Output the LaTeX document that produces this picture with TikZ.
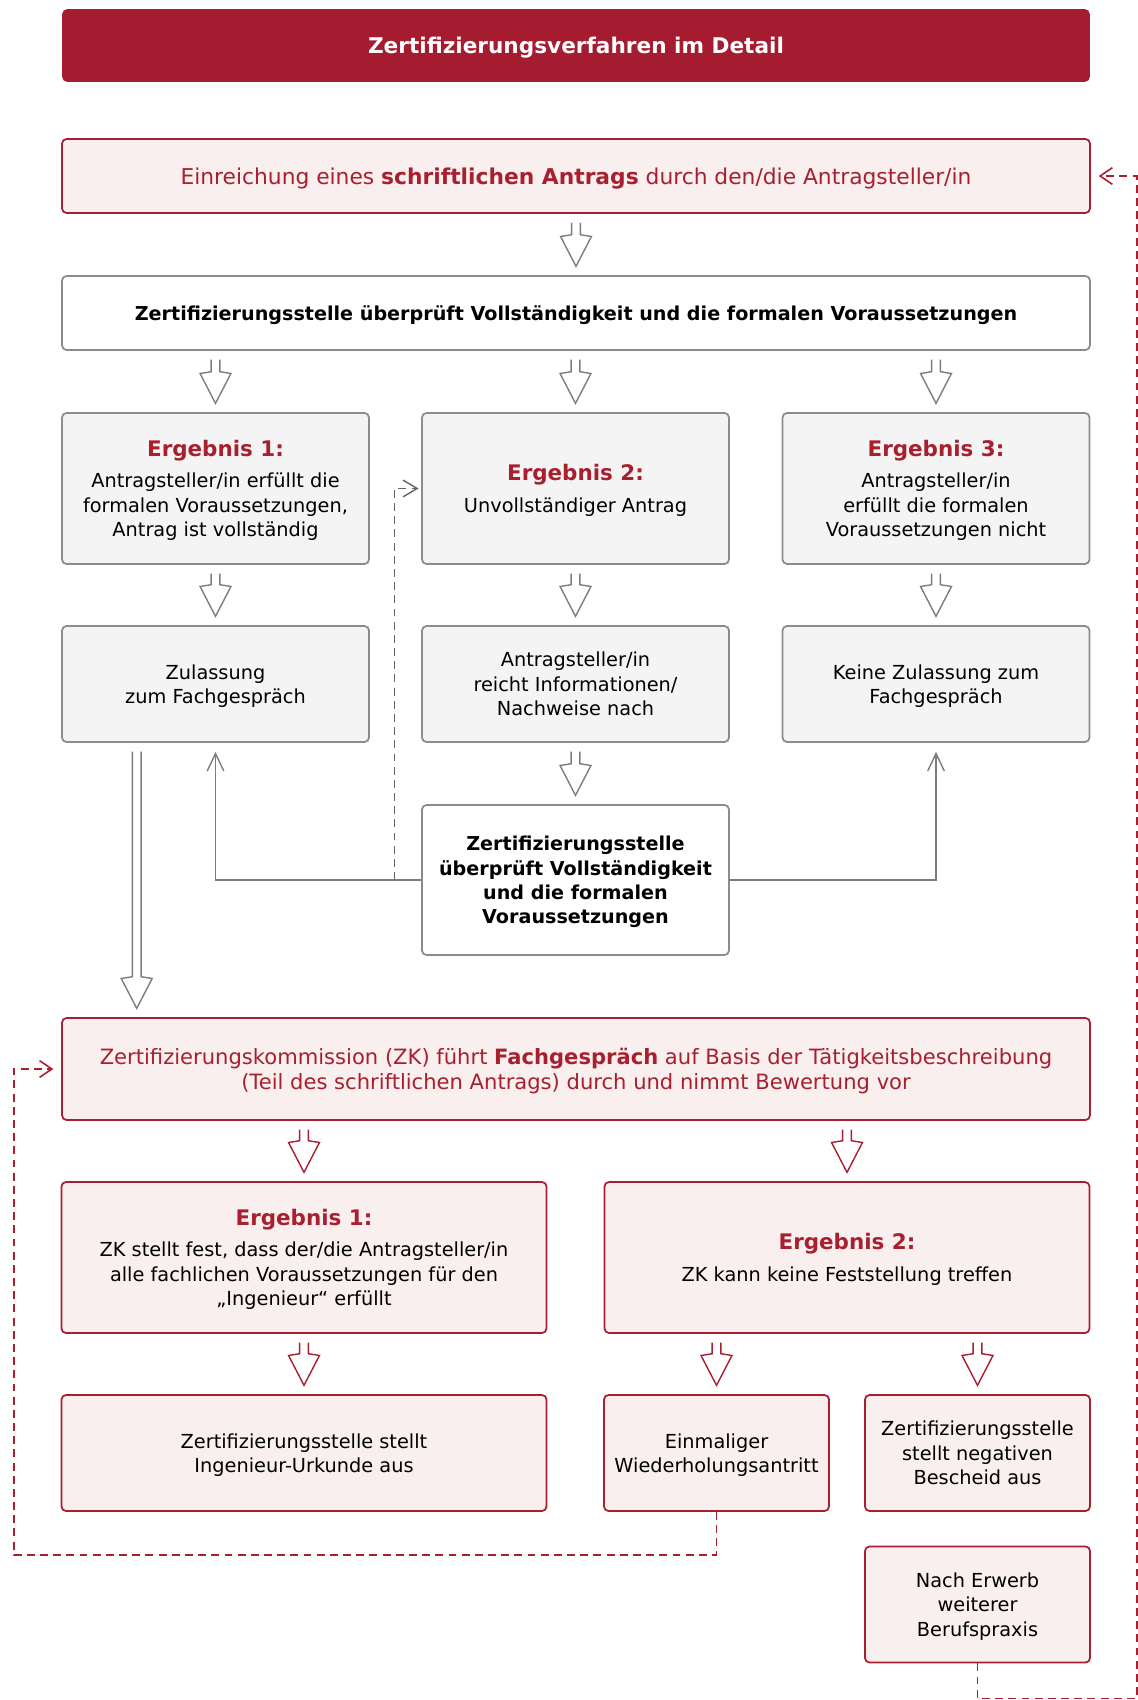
\documentclass[tikz,border=0pt]{standalone}
\usepackage{fontspec}
\setmainfont{DejaVu Sans}
\usetikzlibrary{arrows.meta,calc}
\definecolor{zkdark}{RGB}{165,27,48}
\definecolor{zkred}{RGB}{168,32,47}
\definecolor{zkpink}{RGB}{249,239,239}
\definecolor{zkgrey}{RGB}{244,244,244}
\definecolor{boxgray}{RGB}{140,140,140}
\definecolor{arrgray}{RGB}{125,125,125}
\definecolor{dashgray}{RGB}{100,100,100}

\newcommand{\zkfont}{\fontsize{11}{13.9}\selectfont}
\newcommand{\ergebnis}[1]{{\fontsize{12.2}{13.9}\selectfont\bfseries\textcolor{zkred}{Ergebnis #1:}}\\[4pt]}
\newcommand{\hollowarrow}[3]{%
  \draw[#1] let \p1=(#2), \p2=(#3) in
    (\x2-2.5pt,\y1-5pt) -- (\x2-2.5pt,\y2+23pt) -- (\x2-8.8pt,\y2+22pt) -- (\x2,\y2+5pt)
    -- (\x2+8.8pt,\y2+22pt) -- (\x2+2.5pt,\y2+23pt) -- (\x2+2.5pt,\y1-5pt);
}

\begin{document}
\begin{tikzpicture}[x=0.02cm,y=-0.02cm,font=\zkfont,
    box/.style={rounded corners=2.5pt,line width=1pt,align=center,inner sep=2pt,text depth=0pt},
    redbox/.style={box,draw=zkred,fill=zkpink},
    greybox/.style={box,draw=boxgray,fill=zkgrey},
    whitebox/.style={box,draw=boxgray,fill=white,font=\fontsize{10.9}{13.9}\selectfont\bfseries},
    wide/.style={minimum width=20.56cm,minimum height=1.48cm},
    col/.style={minimum width=6.14cm},
    half/.style={minimum width=9.7cm},
    small/.style={minimum width=4.5cm},
    hi/.style={minimum height=3.02cm},
    lo/.style={minimum height=2.32cm},
    garrow/.style={draw=arrgray,line width=0.8pt,line join=miter},
    rarrow/.style={draw=zkred,line width=0.8pt,line join=miter},
    conn/.style={draw=arrgray,line width=0.8pt,-{Straight Barb[length=10pt,width=9.5pt]}},
    gdash/.style={draw=dashgray,line width=0.8pt,dash pattern=on 4.5pt off 3pt,-{Straight Barb[length=8pt,width=9.5pt]},shorten >=1.5pt},
    rdash/.style={draw=zkred,line width=0.9pt,dash pattern=on 4.5pt off 3pt,-{Straight Barb[length=7pt,width=9.5pt]},shorten >=4.5pt}]
    \useasboundingbox (0,0) rectangle (1138,1700);
    \node[fill=zkdark,text=white,rounded corners=3pt,minimum width=20.56cm,minimum height=1.46cm,text depth=0pt,font=\fontsize{12.3}{14}\selectfont\bfseries] (title) at (576,45.5) {Zertifizierungsverfahren im Detail};

    \node[redbox,wide,text=zkred,font=\fontsize{12.4}{14}\selectfont] (antrag) at (576,176) {Einreichung eines \textbf{schriftlichen Antrags} durch den/die Antragsteller/in};
    \node[whitebox,wide] (pruef) at (576,313) {Zertifizierungsstelle überprüft Vollständigkeit und die formalen Voraussetzungen};

    \node[greybox,col,hi] (erg1) at (215.5,488.5) {\ergebnis{1}Antragsteller/in erfüllt die\\formalen Voraussetzungen,\\Antrag ist vollständig};
    \node[greybox,col,hi] (erg2) at (575.5,488.5) {\ergebnis{2}Unvollständiger Antrag};
    \node[greybox,col,hi] (erg3) at (936,488.5) {\ergebnis{3}Antragsteller/in\\erfüllt die formalen\\Voraussetzungen nicht};
    \node[greybox,col,lo] (zul) at (215.5,684) {Zulassung\\zum Fachgespräch};
    \node[greybox,col,lo] (nachw) at (575.5,684) {Antragsteller/in\\reicht Informationen/\\Nachweise nach};
    \node[greybox,col,lo] (keine) at (936,684) {Keine Zulassung zum\\Fachgespräch};
    \node[whitebox,col,minimum height=3cm] (pruef2) at (575.5,880) {Zertifizierungsstelle\\überprüft Vollständigkeit\\und die formalen\\Voraussetzungen};

    \node[redbox,wide,minimum height=2.04cm,text=zkred,font=\fontsize{12}{14.6}\selectfont] (fachg) at (576,1069) {Zertifizierungskommission (ZK) führt \textbf{Fachgespräch} auf Basis der Tätigkeitsbeschreibung\\(Teil des schriftlichen Antrags) durch und nimmt Bewertung vor};
    \node[redbox,half,hi] (zk1) at (304,1257.5) {\ergebnis{1}ZK stellt fest, dass der/die Antragsteller/in\\alle fachlichen Voraussetzungen für den\\„Ingenieur“ erfüllt};
    \node[redbox,half,hi] (zk2) at (847,1257.5) {\ergebnis{2}ZK kann keine Feststellung treffen};
    \node[redbox,half,lo] (urkunde) at (304,1453) {Zertifizierungsstelle stellt\\Ingenieur-Urkunde aus};
    \node[redbox,small,lo] (wdh) at (716.5,1453) {Einmaliger\\Wiederholungsantritt};
    \node[redbox,small,lo] (neg) at (977.5,1453) {Zertifizierungsstelle\\stellt negativen\\Bescheid aus};
    \node[redbox,small,lo] (praxis) at (977.5,1604.5) {Nach Erwerb\\weiterer\\Berufspraxis};

    \hollowarrow{garrow}{antrag.south}{pruef.north}
    \hollowarrow{garrow}{pruef.south}{erg1.north}
    \hollowarrow{garrow}{pruef.south}{erg2.north}
    \hollowarrow{garrow}{pruef.south}{erg3.north}
    \hollowarrow{garrow}{erg1.south}{zul.north}
    \hollowarrow{garrow}{erg2.south}{nachw.north}
    \hollowarrow{garrow}{erg3.south}{keine.north}
    \hollowarrow{garrow}{nachw.south}{pruef2.north}
    \hollowarrow{garrow}{zul.south}{$(fachg.north west)+(75.5,0)$}
    \hollowarrow{rarrow}{fachg.south}{zk1.north}
    \hollowarrow{rarrow}{fachg.south}{zk2.north}
    \hollowarrow{rarrow}{zk1.south}{urkunde.north}
    \hollowarrow{rarrow}{zk2.south}{wdh.north}
    \hollowarrow{rarrow}{zk2.south}{neg.north}

    \draw[conn] (pruef2.west) -| ($(zul.south)+(0,9)$);
    \draw[conn] (pruef2.east) -| ($(keine.south)+(0,9)$);
    \draw[gdash] ($(pruef2.west)+(-26.5,0)$) |- (erg2.west);

    \draw[rdash] (wdh.south) -- ++(0,43) -| ($(fachg.west)+(-47.5,0)$) -- (fachg.west);
    \draw[rdash] (praxis.south) -- ++(0,35) -| ($(antrag.east)+(46,0)$) -- (antrag.east);
\end{tikzpicture}
\end{document}
